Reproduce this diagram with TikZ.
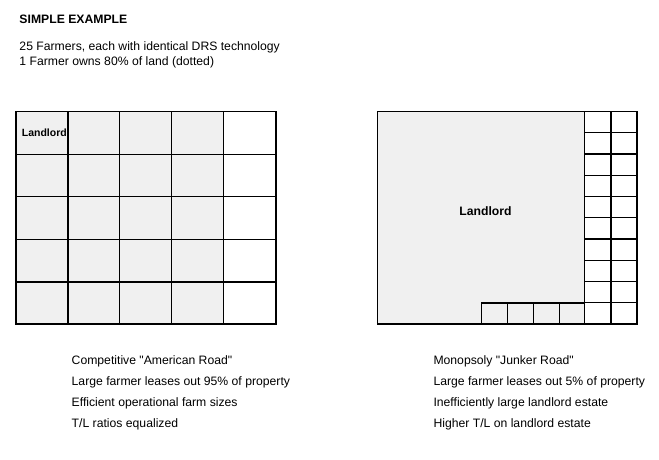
\documentclass[tikz,border=0pt]{standalone}
\usepackage{fontspec}
\setmainfont{Liberation Sans}[Ligatures=TeXOff]
\begin{document}
\begin{tikzpicture}[x=1pt,y=-1pt,
  txt/.style={anchor=base west,inner sep=0pt,font=\fontsize{12.2}{14}\selectfont},
  lbl/.style={inner sep=0pt,font=\fontsize{12.2}{14}\selectfont\bfseries},
  shade/.style={fill=black!6},
  thin/.style={line width=0.75pt},
  thick/.style={line width=1.3pt},
  outer/.style={line width=1.6pt}]
\useasboundingbox[fill=white] (0,0) rectangle (659,459);

% header
\node[txt,font=\fontsize{12.2}{14}\selectfont\bfseries] (title) at (19.3,23.3) {SIMPLE EXAMPLE};
\node[txt] (l1) at (19.3,50.7) {25 Farmers, each with identical DRS technology};
\node[txt] (l2) at (19.3,65.3) {1 Farmer owns 80\% of land (dotted)};

% left grid
\fill[shade] (16,111.5) rectangle (223.5,324);
\foreach \x in {119.5,171.5} \draw[thin] (\x,111.5) -- (\x,324);
\foreach \y in {154.5,196.5,239.5} \draw[thin] (16,\y) -- (276,\y);
\foreach \x in {68,223.5} \draw[thick] (\x,111.5) -- (\x,324);
\draw[thick] (16,282) -- (276,282);
\draw[outer] (16,111.5) rectangle (276,324);
\node[anchor=base west,inner sep=0pt,font=\fontsize{10.5}{12}\selectfont\bfseries] (ll) at (21.7,136.7) {Landlord};

% right grid
\fill[shade] (377.5,111.5) rectangle (584.5,324);
\foreach \k in {1,...,9} \draw[thick] (584.5,111.5+\k*21.25) -- (637,111.5+\k*21.25);
\draw[thick] (611,111.5) -- (611,324);
\draw[thick] (481,303) -- (584.5,303);
\foreach \x in {481,507.5,533.5,559.5} \draw[thin] (\x,303) -- (\x,324);
\draw[outer] (584.5,111.5) -- (584.5,324);
\draw[outer] (377.5,111.5) rectangle (637,324);
\node[anchor=base,lbl] (rl) at (485.5,215) {Landlord};

% bottom texts
\node[txt] (a1) at (71.5,364.3) {Competitive "American Road"};
\node[txt] (a2) at (71.5,385.5) {Large farmer leases out 95\% of property};
\node[txt] (a3) at (71.5,406.5) {Efficient operational farm sizes};
\node[txt] (a4) at (71.5,427.3) {T/L ratios equalized};
\node[txt] (b1) at (433.3,364.3) {Monopsoly "Junker Road"};
\node[txt] (b2) at (433.3,385.5) {Large farmer leases out 5\% of property};
\node[txt] (b3) at (433.3,406.5) {Inefficiently large landlord estate};
\node[txt] (b4) at (433.3,427.3) {Higher T/L on landlord estate};
\end{tikzpicture}
\end{document}
